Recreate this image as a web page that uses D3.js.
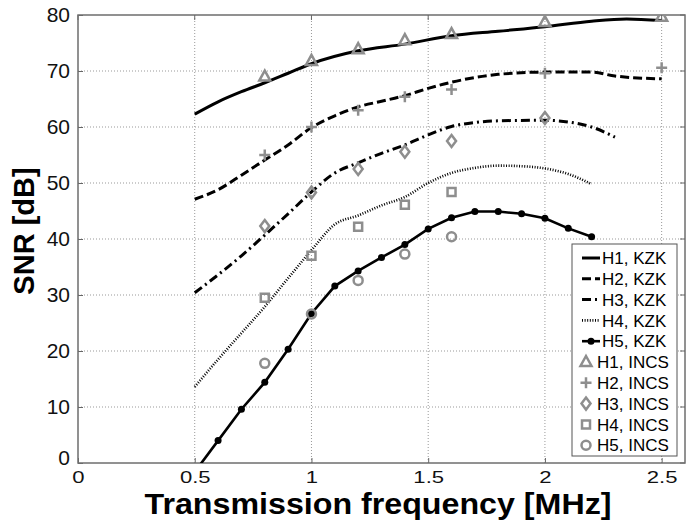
<!DOCTYPE html>
<html>
<head>
<meta charset="utf-8">
<script src="https://cdn.jsdelivr.net/npm/d3@7"></script>
<style>
  body { margin: 0; background: #fff; }
  svg { display: block; font-family: "Liberation Sans", Arial, sans-serif; }
</style>
</head>
<body>
<div id="chart"></div>
<script>
// KZK simulated curves (x in MHz, SNR in dB)
const h1x = [0.5, 0.6, 0.7, 0.8, 0.9, 1.0, 1.2, 1.4, 1.6, 1.8, 2.0, 2.2, 2.35, 2.5]
const h1y = [62.3, 64.5, 66.3, 67.9, 69.6, 71.3, 73.6, 74.8, 76.3, 77.1, 77.9, 78.9, 79.3, 79.0]

const h2x = [0.5, 0.6, 0.7, 0.8, 0.9, 1.0, 1.1, 1.2, 1.3, 1.4, 1.5, 1.6, 1.8, 2.0, 2.2, 2.3, 2.5]
const h2y = [47.1, 48.8, 51.4, 54.1, 56.8, 59.9, 62.0, 63.6, 64.6, 65.6, 66.9, 68.0, 69.4, 69.8, 69.8, 69.1, 68.6]

const h3x = [0.5, 0.6, 0.7, 0.8, 0.9, 1.0, 1.1, 1.2, 1.3, 1.4, 1.5, 1.6, 1.7, 1.8, 2.0, 2.1, 2.2, 2.3]
const h3y = [30.4, 33.6, 37.0, 40.7, 44.5, 48.4, 51.8, 53.6, 55.3, 56.8, 58.6, 60.1, 60.8, 61.1, 61.2, 60.9, 60.0, 58.2]

const h4x = [0.5, 0.6, 0.7, 0.8, 0.9, 1.0, 1.1, 1.2, 1.3, 1.4, 1.5, 1.6, 1.7, 1.8, 1.9, 2.0, 2.1, 2.2]
const h4y = [13.6, 18.5, 23.2, 27.9, 33.0, 38.0, 42.6, 44.2, 46.0, 47.5, 50.0, 51.8, 52.7, 53.1, 53.0, 52.6, 51.6, 49.8]

const h5x = [0.5, 0.6, 0.7, 0.8, 0.9, 1.0, 1.1, 1.2, 1.3, 1.4, 1.5, 1.6, 1.7, 1.8, 1.9, 2.0, 2.1, 2.2]
const h5y = [-1.6, 4.0, 9.6, 14.4, 20.3, 26.7, 31.6, 34.3, 36.7, 39.0, 41.8, 43.8, 44.9, 44.9, 44.5, 43.7, 41.9, 40.4]

// INCS measured points
const incsX = [0.8, 1.0, 1.2, 1.4, 1.6, 2.0, 2.5]
const incsH1 = [69.0, 71.8, 73.9, 75.5, 76.6, 78.75, 79.7]
const incsH2 = [55.0, 60.0, 63.0, 65.4, 66.7, 69.6, 70.6]
const incsH3 = [42.3, 48.3, 52.5, 55.6, 57.5, 61.6]
const incsH4 = [29.5, 37.0, 42.2, 46.1, 48.4]
const incsH5 = [17.8, 26.6, 32.6, 37.3, 40.4]

const xTicks = [0, 0.5, 1, 1.5, 2, 2.5]
const yTicks = [0, 10, 20, 30, 40, 50, 60, 70, 80]
const legendLabels = ["H1, KZK", "H2, KZK", "H3, KZK", "H4, KZK", "H5, KZK",
                      "H1, INCS", "H2, INCS", "H3, INCS", "H4, INCS", "H5, INCS"]

const width = 686, height = 523
const plotLeft = 78, plotRight = 685, plotTop = 15, plotBottom = 463
const markGray = "#8e8e8e"

const svg = d3.select("#chart").append("svg")
    .attr("width", width)
    .attr("height", height)

const x = d3.scaleLinear().domain([0, 2.6]).range([plotLeft, plotRight])
const y = d3.scaleLinear().domain([0, 80]).range([plotBottom, plotTop])

svg.append("defs").append("clipPath").attr("id", "plot-clip")
    .append("rect")
    .attr("x", plotLeft).attr("y", plotTop)
    .attr("width", plotRight - plotLeft).attr("height", plotBottom - plotTop)

// grid (dotted)
const grid = svg.append("g")
grid.selectAll(".vg").data(xTicks.slice(1)).enter().append("line")
    .attr("x1", d => x(d)).attr("x2", d => x(d))
    .attr("y1", plotTop).attr("y2", plotBottom)
    .attr("stroke", "#999").attr("stroke-width", 1).attr("stroke-dasharray", "1,2")
grid.selectAll(".hg").data(yTicks.slice(1, -1)).enter().append("line")
    .attr("x1", plotLeft).attr("x2", plotRight)
    .attr("y1", d => y(d)).attr("y2", d => y(d))
    .attr("stroke", "#999").attr("stroke-width", 1).attr("stroke-dasharray", "1,2")

// axes
const xAxis = svg.append("g")
    .attr("transform", `translate(0,${plotBottom})`)
    .call(d3.axisBottom(x).tickValues(xTicks).tickSize(-5).tickFormat(d3.format("")))
xAxis.select(".domain").remove()
xAxis.selectAll("line").attr("stroke", "#666")
// tick labels in the original are short and wide
xAxis.selectAll("text")
    .attr("font-size", 17).attr("fill", "#111")
    .attr("font-family", "'Liberation Sans', Arial, sans-serif")
    .attr("y", 20).attr("dy", 0)
    .attr("transform", "scale(1.3,1)")

const yAxis = svg.append("g")
    .attr("transform", `translate(${plotLeft},0)`)
    .call(d3.axisLeft(y).tickValues(yTicks).tickSize(-5).tickPadding(8))
yAxis.select(".domain").remove()
yAxis.selectAll("line").attr("stroke", "#666")
yAxis.selectAll("text")
    .attr("font-size", 21).attr("fill", "#111")
    .attr("font-family", "'Liberation Sans', Arial, sans-serif")
// the "0" label sits a little higher in the original
yAxis.selectAll(".tick").filter(d => d === 0).select("text").attr("dy", "0.05em")

// top and right ticks
svg.append("g").selectAll("line").data(xTicks).enter().append("line")
    .attr("x1", d => x(d)).attr("x2", d => x(d))
    .attr("y1", plotTop).attr("y2", plotTop + 5)
    .attr("stroke", "#666")
svg.append("g").selectAll("line").data(yTicks).enter().append("line")
    .attr("x1", plotRight - 5).attr("x2", plotRight)
    .attr("y1", d => y(d)).attr("y2", d => y(d))
    .attr("stroke", "#666")

// frame
svg.append("rect")
    .attr("x", plotLeft).attr("y", plotTop)
    .attr("width", plotRight - plotLeft).attr("height", plotBottom - plotTop)
    .attr("fill", "none").attr("stroke", "#6e6e6e").attr("stroke-width", 1.5)

// titles
svg.append("text")
    .attr("x", 378).attr("y", 514)
    .attr("text-anchor", "middle")
    .attr("font-size", 29).attr("font-weight", "bold")
    .attr("textLength", 467).attr("lengthAdjust", "spacingAndGlyphs")
    .text("Transmission frequency [MHz]")

svg.append("text")
    .attr("transform", "translate(34,231) rotate(-90)")
    .attr("text-anchor", "middle")
    .attr("font-size", 29).attr("font-weight", "bold")
    .text("SNR [dB]")

// KZK lines
const lineStyles = [
    { dash: null, w: 3 },
    { dash: "9,4", w: 3 },
    { dash: "9,4,2,4", w: 3 },
    { dash: "1,1.6", w: 2.6 },
    { dash: null, w: 2.6 }
]
const kzk = [[h1x, h1y], [h2x, h2y], [h3x, h3y], [h4x, h4y], [h5x, h5y]]

const plot = svg.append("g").attr("clip-path", "url(#plot-clip)")

kzk.forEach(([xs, ys], i) => {
    const pts = xs.map((v, j) => [v, ys[j]])
    const line = d3.line()
        .x(d => x(d[0])).y(d => y(d[1]))
        .curve(i === 4 ? d3.curveLinear : d3.curveMonotoneX)
    plot.append("path")
        .datum(pts)
        .attr("d", line)
        .attr("fill", "none")
        .attr("stroke", "#000")
        .attr("stroke-width", lineStyles[i].w)
        .attr("stroke-dasharray", lineStyles[i].dash)
    if (i === 4) {
        plot.selectAll(".h5dot").data(pts).enter().append("circle")
            .attr("cx", d => x(d[0])).attr("cy", d => y(d[1]))
            .attr("r", 3.5).attr("fill", "#000")
    }
})

// INCS markers
const markerPaths = [
    "M0,-6L5.5,4L-5.5,4Z",
    "M-5.5,0H5.5M0,-5.5V5.5",
    "M0,-6L4.5,0L0,6L-4.5,0Z",
    "M-4,-4H4V4H-4Z",
    "M4.5,0A4.5,4.5 0 1,1 -4.5,0A4.5,4.5 0 1,1 4.5,0Z"
]
const incs = [incsH1, incsH2, incsH3, incsH4, incsH5]

incs.forEach((ys, i) => {
    plot.append("g").selectAll("path")
        .data(ys.map((v, j) => [incsX[j], v]))
        .enter().append("path")
        .attr("transform", d => `translate(${x(d[0])},${y(d[1])})`)
        .attr("d", markerPaths[i])
        .attr("fill", "none")
        .attr("stroke", markGray)
        .attr("stroke-width", 2.5)
})

// legend
const legend = svg.append("g")
legend.append("rect")
    .attr("x", 572).attr("y", 244)
    .attr("width", 105).attr("height", 212)
    .attr("fill", "#fff").attr("stroke", "#555").attr("stroke-width", 1)

legendLabels.forEach((label, i) => {
    const cy = 258 + i * 20.8
    const row = legend.append("g")
    if (i < 5) {
        row.append("line")
            .attr("x1", 582).attr("x2", 600)
            .attr("y1", cy).attr("y2", cy)
            .attr("stroke", "#000")
            .attr("stroke-width", lineStyles[i].w)
            .attr("stroke-dasharray", lineStyles[i].dash)
        if (i === 4) {
            row.append("circle").attr("cx", 591).attr("cy", cy).attr("r", 3.5).attr("fill", "#000")
        }
        row.append("text")
            .attr("x", 602).attr("y", cy).attr("dy", "0.36em")
            .attr("font-size", 17).text(label)
    } else {
        row.append("path")
            .attr("transform", `translate(586,${cy})`)
            .attr("d", markerPaths[i - 5])
            .attr("fill", "none").attr("stroke", markGray).attr("stroke-width", 2.5)
        row.append("text")
            .attr("x", 597).attr("y", cy).attr("dy", "0.36em")
            .attr("font-size", 17).text(label)
    }
})
</script>
</body>
</html>
